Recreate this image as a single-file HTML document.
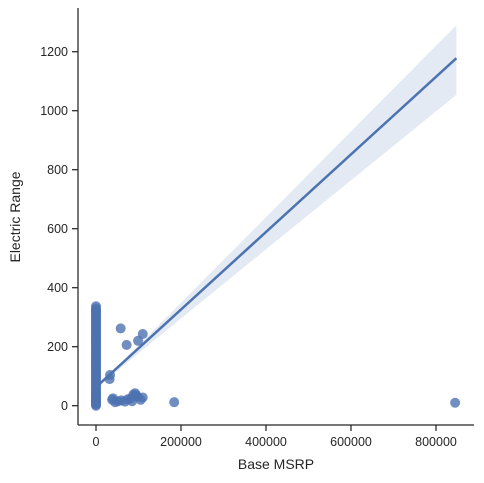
<!DOCTYPE html>
<html><head><meta charset="utf-8"><style>
body{margin:0;background:#fff;}
svg{display:block;font-family:"Liberation Sans",sans-serif;}
</style></head><body>
<svg id="chart" width="484" height="483">
</svg>
<script>
const xTicks=[0,200000,400000,600000,800000];
const yTicks=[0,200,400,600,800,1000,1200];
const xLabels=["0","200000","400000","600000","800000"];
const yLabels=["0","200","400","600","800","1000","1200"];
const colY=[0,4,8,12,16,20,24,28,32,36,40,45,50,55,60,65,70,75,80,85,90,95,100,105,110,115,120,125,130,135,140,145,150,155,160,165,170,175,180,185,190,195,200,205,210,215,220,225,230,235,240,245,250,255,260,265,270,275,280,285,290,295,300,305,310,315,320,325,330,337];
const colX=colY.map(()=>0);
const ptX=[58000,110000,99000,72000,33000,32000,38000,45000,52000,60000,68000,75000,82000,88000,92000,98000,105000,110000,184000,845000,40000,85000,95000];
const ptY=[262,243,220,206,104,90,20,12,15,18,14,22,25,38,42,30,20,28,12,10,25,15,35];
const lineX=[0,848000];
const lineY=[63,1178];
const ciHalfAtZero=8, ciHalfAtMax=118;

const svg=document.getElementById('chart');
const NS='http://www.w3.org/2000/svg';
const X=v=>96+v*85/200000;
const Y=v=>405.7-v*0.295;
function mk(t,a,p){const e=document.createElementNS(NS,t);for(const k in a)e.setAttribute(k,a[k]);(p||svg).appendChild(e);return e;}

const slope=(lineY[1]-lineY[0])/(lineX[1]-lineX[0]);
const k=Math.sqrt(ciHalfAtMax*ciHalfAtMax-ciHalfAtZero*ciHalfAtZero)/lineX[1];
let up=[],dn=[];
for(let i=0;i<=40;i++){const xv=lineX[0]+(lineX[1]-lineX[0])*i/40;const yv=lineY[0]+slope*xv;const h=Math.sqrt(ciHalfAtZero*ciHalfAtZero+(k*xv)**2);up.push(X(xv)+','+Y(yv+h-6));dn.unshift(X(xv)+','+Y(yv-h-6*(xv/lineX[1])));}
const band=mk('polygon',{points:up.concat(dn).join(' '),fill:'#4c72b0','fill-opacity':0.15});



const allX=colX.concat(ptX), allY=colY.concat(ptY);
for(let i=0;i<allX.length;i++){
  const c=mk('circle',{cx:X(allX[i]),cy:Y(allY[i]),r:5,fill:'#4c72b0','fill-opacity':0.8});
  
  
}
const rl=mk('line',{x1:X(lineX[0]),y1:Y(lineY[0]),x2:X(lineX[1]),y2:Y(lineY[1]),stroke:'#4c72b0','stroke-width':2.5});



const ya=mk('line',{x1:78,y1:8,x2:78,y2:425,stroke:'#262626','stroke-width':1.25});


const xa=mk('line',{x1:78,y1:425,x2:474,y2:425,stroke:'#262626','stroke-width':1.25});


xTicks.forEach((v,i)=>{
  mk('line',{x1:X(v),y1:425,x2:X(v),y2:431,stroke:'#262626','stroke-width':1.25});
  const t=mk('text',{x:X(v),y:446,'text-anchor':'middle','font-size':12.5,fill:'#262626'});
  t.textContent=xLabels[i];
  
  
});
yTicks.forEach((v,i)=>{
  mk('line',{x1:72,y1:Y(v),x2:78,y2:Y(v),stroke:'#262626','stroke-width':1.25});
  const t=mk('text',{x:68,y:Y(v)+4.5,'text-anchor':'end','font-size':12.5,fill:'#262626'});
  t.textContent=yLabels[i];
  
  
});
const xt=mk('text',{x:276,y:469,'text-anchor':'middle','font-size':14,fill:'#262626'});
xt.textContent='Base MSRP';


const yt=mk('text',{x:20,y:217,'text-anchor':'middle','font-size':14,fill:'#262626',transform:'rotate(-90 20 217)'});
yt.textContent='Electric Range';


</script>
</body></html>
